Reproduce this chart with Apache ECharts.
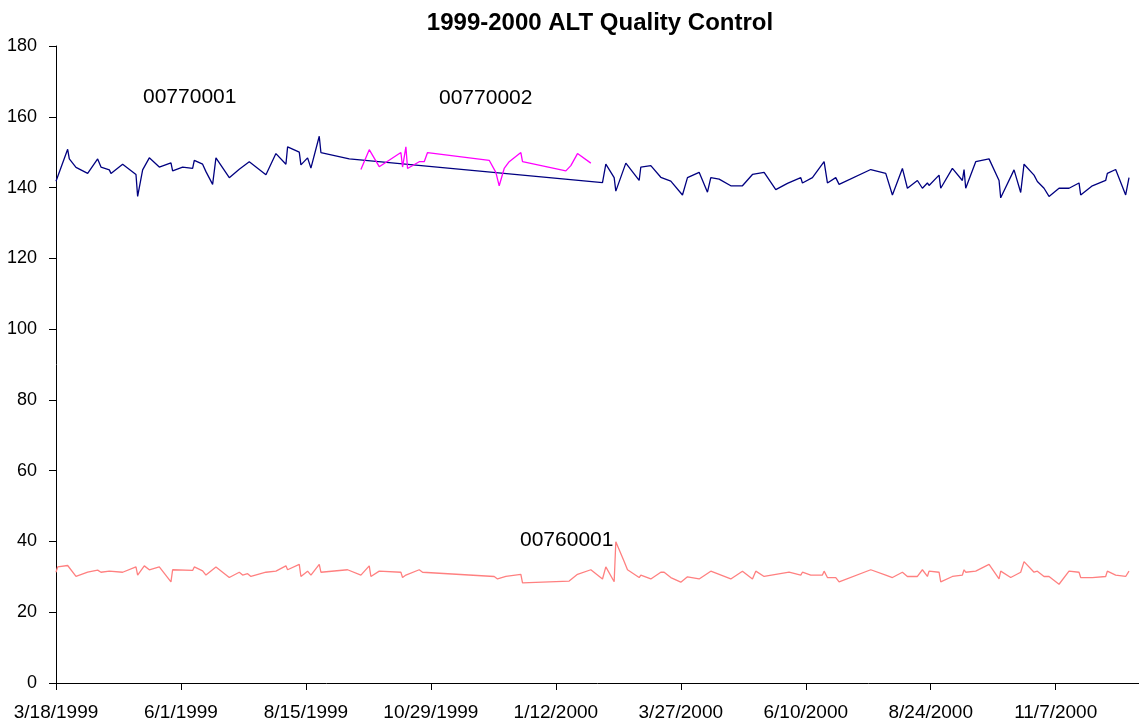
<!DOCTYPE html>
<html>
<head>
<meta charset="utf-8">
<script src="https://cdn.jsdelivr.net/npm/echarts@6/dist/echarts.min.js"></script>
<style>
html,body{margin:0;padding:0;background:#fff;}
#chart{width:1139px;height:726px;}
</style>
</head>
<body>
<div id="chart"></div>
<script>
const chartTitle = '1999-2000 ALT Quality Control';
const startDate = '1999-03-18';
const axisDays = 650;      // axis length in days from start
const tickStepDays = 75;
const yTicks = [0, 20, 40, 60, 80, 100, 120, 140, 160, 180];

const names = ['00770001', '00770002', '00760001'];

const dates770001 = ['1999-03-18','1999-03-25','1999-03-26','1999-03-30','1999-04-06','1999-04-12','1999-04-14','1999-04-19','1999-04-20','1999-04-27',
 '1999-05-05','1999-05-06','1999-05-09','1999-05-13','1999-05-19','1999-05-26','1999-05-27','1999-06-02','1999-06-08','1999-06-09',
 '1999-06-14','1999-06-16','1999-06-20','1999-06-22','1999-06-30','1999-07-06','1999-07-12','1999-07-22','1999-07-28','1999-08-03',
 '1999-08-04','1999-08-11','1999-08-12','1999-08-16','1999-08-18','1999-08-23','1999-08-24','1999-09-10','2000-02-09','2000-02-11',
 '2000-02-16','2000-02-17','2000-02-23','2000-03-02','2000-03-03','2000-03-09','2000-03-15','2000-03-21','2000-03-28','2000-03-31',
 '2000-04-07','2000-04-12','2000-04-14','2000-04-19','2000-04-26','2000-05-03','2000-05-09','2000-05-16','2000-05-23','2000-05-30',
 '2000-06-07','2000-06-08','2000-06-14','2000-06-21','2000-06-23','2000-06-28','2000-06-30','2000-07-19','2000-07-28','2000-08-01',
 '2000-08-07','2000-08-10','2000-08-16','2000-08-19','2000-08-22','2000-08-23','2000-08-29','2000-08-30','2000-09-06','2000-09-12',
 '2000-09-13','2000-09-14','2000-09-20','2000-09-28','2000-10-04','2000-10-05','2000-10-13','2000-10-17','2000-10-19','2000-10-25',
 '2000-10-27','2000-10-31','2000-11-03','2000-11-09','2000-11-15','2000-11-21','2000-11-22','2000-11-29','2000-12-07','2000-12-08',
 '2000-12-13','2000-12-19','2000-12-21'];
const values770001 = [141.8,150.8,148.1,145.7,144.0,148.1,145.8,145.0,144.0,146.6,
 143.7,137.5,145.0,148.4,145.8,147.0,144.7,145.8,145.4,147.7,
 146.6,144.5,140.9,148.4,142.8,145.2,147.3,143.6,149.6,146.6,
 151.5,150.0,146.4,148.4,145.5,154.5,149.9,148.1,141.4,146.6,
 142.8,139.0,146.9,142.0,145.8,146.2,142.9,141.8,137.9,142.8,
 144.3,138.7,142.8,142.4,140.5,140.5,143.7,144.3,139.4,141.2,
 142.8,141.3,142.8,147.3,141.3,142.8,140.9,145.1,144.0,137.9,
 145.4,139.8,142.0,139.8,141.3,140.6,143.5,139.8,145.4,142.0,
 145.1,139.8,147.3,148.1,142.0,137.1,145.0,138.6,146.6,143.5,
 141.7,139.8,137.5,139.8,139.8,141.3,137.9,140.5,142.0,144.0,
 145.1,137.9,142.8];

const dates770002 = ['1999-09-17','1999-09-22','1999-09-28','1999-10-11','1999-10-12','1999-10-14','1999-10-15','1999-10-22','1999-10-25','1999-10-27',
 '1999-12-03','1999-12-07','1999-12-09','1999-12-12','1999-12-15','1999-12-22','1999-12-23','2000-01-18','2000-01-21','2000-01-25','2000-02-02'];
const values770002 = [145.1,150.7,145.9,149.9,145.8,151.5,145.4,147.3,147.3,149.9,
 147.7,144.3,140.5,145.4,147.3,149.9,147.3,144.7,146.2,149.6,146.9];

const dates760001 = ['1999-03-18','1999-03-19','1999-03-25','1999-03-30','1999-04-06','1999-04-12','1999-04-14','1999-04-19','1999-04-27','1999-05-05',
 '1999-05-06','1999-05-10','1999-05-13','1999-05-19','1999-05-26','1999-05-27','1999-06-08','1999-06-09','1999-06-14','1999-06-16',
 '1999-06-22','1999-06-30','1999-07-06','1999-07-08','1999-07-11','1999-07-13','1999-07-22','1999-07-28','1999-08-03','1999-08-04',
 '1999-08-11','1999-08-12','1999-08-16','1999-08-18','1999-08-23','1999-08-24','1999-09-09','1999-09-17','1999-09-22','1999-09-23',
 '1999-09-28','1999-10-11','1999-10-12','1999-10-14','1999-10-15','1999-10-22','1999-10-24','1999-12-06','1999-12-08','1999-12-13',
 '1999-12-22','1999-12-23','2000-01-20','2000-01-25','2000-02-02','2000-02-09','2000-02-11','2000-02-16','2000-02-17','2000-02-22',
 '2000-02-24','2000-03-02','2000-03-03','2000-03-09','2000-03-15','2000-03-17','2000-03-21','2000-03-27','2000-03-31','2000-04-07',
 '2000-04-14','2000-04-26','2000-05-03','2000-05-09','2000-05-11','2000-05-16','2000-05-31','2000-06-07','2000-06-08','2000-06-13',
 '2000-06-20','2000-06-21','2000-06-23','2000-06-28','2000-06-30','2000-07-19','2000-07-28','2000-08-01','2000-08-07','2000-08-10',
 '2000-08-16','2000-08-19','2000-08-22','2000-08-23','2000-08-29','2000-08-30','2000-09-06','2000-09-12','2000-09-13','2000-09-14',
 '2000-09-20','2000-09-28','2000-10-04','2000-10-05','2000-10-11','2000-10-17','2000-10-19','2000-10-25','2000-10-27','2000-10-31',
 '2000-11-03','2000-11-09','2000-11-15','2000-11-21','2000-11-22','2000-11-29','2000-12-07','2000-12-08','2000-12-13','2000-12-19',
 '2000-12-21'];
const values760001 = [31.3,32.8,33.2,30.1,31.3,31.9,31.3,31.6,31.3,32.8,
 30.5,33.1,32.0,32.8,28.6,32.0,31.8,32.8,31.7,30.5,
 32.8,29.8,31.3,30.5,30.9,30.1,31.3,31.6,33.1,32.0,
 33.5,30.1,31.6,30.5,33.5,31.3,32.0,30.5,33.1,30.1,
 31.6,31.3,29.8,30.5,30.1,32.0,31.3,30.1,29.4,30.1,
 30.7,28.3,28.8,30.7,32.0,29.4,32.8,28.6,39.9,34.3,
 32.0,29.8,30.5,29.4,31.3,31.3,29.8,28.5,30.0,29.4,
 31.6,29.4,31.6,29.4,31.6,30.1,31.3,30.5,31.3,30.5,
 30.5,31.6,29.8,29.8,28.6,32.0,30.5,29.8,31.3,30.1,
 30.1,32.0,30.1,31.6,31.3,28.6,30.1,30.5,32.0,31.3,
 31.6,33.5,29.4,31.6,29.8,31.3,34.3,31.3,31.6,30.1,
 30.1,27.9,31.6,31.3,29.8,29.8,30.1,31.6,30.5,30.1,
 31.6];

const DAY = 86400000;
function toMs(s){ const p = s.split('-').map(Number); return Date.UTC(p[0], p[1]-1, p[2]); }
const t0 = toMs(startDate);
function toDay(s){ return Math.round((toMs(s) - t0) / DAY); }
function dayLabel(d){
  const dt = new Date(t0 + d * DAY);
  return (dt.getUTCMonth()+1) + '/' + dt.getUTCDate() + '/' + dt.getUTCFullYear();
}
function pairs(ds, vs){ return ds.map((d,i)=>[toDay(d), vs[i]]); }

const chart = echarts.init(document.getElementById('chart'), null, {renderer:'canvas'});
const FONT = 'Liberation Sans, Arial, sans-serif';

const option = {
  animation: false,
  backgroundColor: '#ffffff',
  title: {
    text: chartTitle,
    left: 595, top: 6, textAlign: 'center',
    textStyle: {fontFamily: FONT, fontWeight: 'bold', fontSize: 24, color: '#000'}
  },
  grid: {left: 56, right: 0, top: 46, bottom: 43, containLabel: false},
  xAxis: {
    type: 'value', min: 0, max: axisDays, interval: tickStepDays,
    axisLine: {show: true, onZero: false, lineStyle: {color: '#000', width: 1}},
    axisTick: {show: true, length: 7, lineStyle: {color: '#000'}},
    splitLine: {show: false},
    axisLabel: {
      fontFamily: FONT, fontSize: 19, color: '#000', margin: 20,
      showMaxLabel: false,
      formatter: v => v > axisDays - 30 ? '' : dayLabel(v)
    }
  },
  yAxis: {
    type: 'value', min: yTicks[0], max: yTicks[yTicks.length-1], interval: yTicks[1]-yTicks[0],
    axisLine: {show: true, lineStyle: {color: '#000', width: 1}},
    axisTick: {show: true, length: 7, lineStyle: {color: '#000'}},
    splitLine: {show: false},
    axisLabel: {fontFamily: FONT, fontSize: 18, color: '#000', margin: 19}
  },
  graphic: [
    {type:'text', left: 143, top: 87, style:{text: names[0], font: '21px ' + FONT, fill:'#000'}},
    {type:'text', left: 439, top: 88, style:{text: names[1], font: '21px ' + FONT, fill:'#000'}},
    {type:'text', left: 520, top: 530, style:{text: names[2], font: '21px ' + FONT, fill:'#000'}}
  ],
  series: [
    {name: names[0], type:'line', data: pairs(dates770001, values770001), showSymbol:false, symbol:'none',
     lineStyle:{color:'#000080', width:1.3}, itemStyle:{color:'#000080'}},
    {name: names[1], type:'line', data: pairs(dates770002, values770002), showSymbol:false, symbol:'none',
     lineStyle:{color:'#FF00FF', width:1.3}, itemStyle:{color:'#FF00FF'}},
    {name: names[2], type:'line', data: pairs(dates760001, values760001), showSymbol:false, symbol:'none',
     lineStyle:{color:'#FF8080', width:1.3}, itemStyle:{color:'#FF8080'}}
  ]
};
chart.setOption(option);
</script>
</body>
</html>
